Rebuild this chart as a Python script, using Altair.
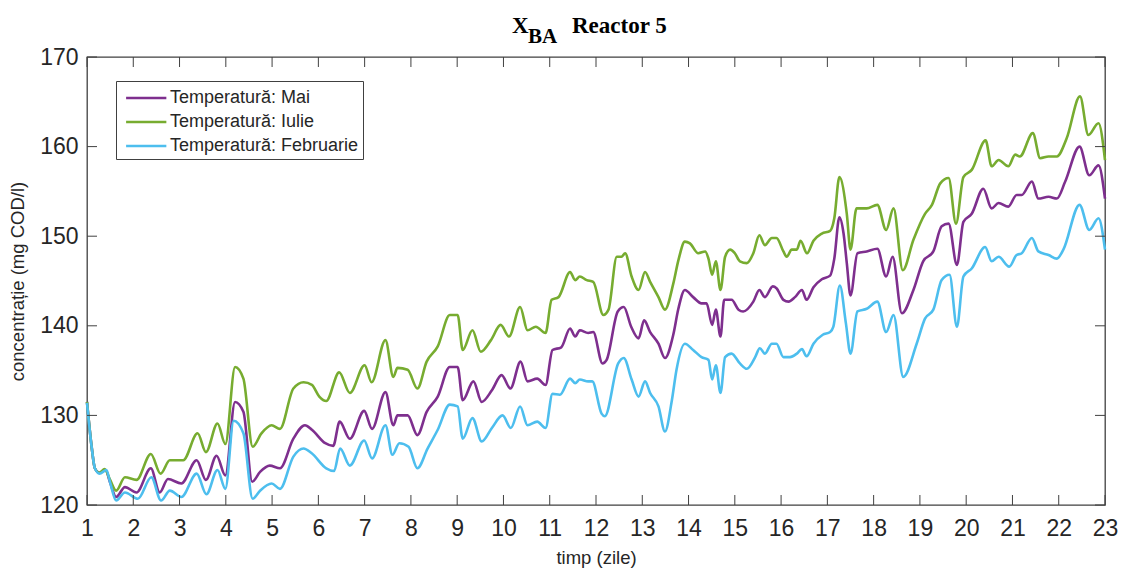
import altair as alt
import pandas as pd

# ---------------- data ----------------
mai_t = [1.0, 1.1, 1.17, 1.27, 1.4, 1.5, 1.63, 1.82, 2.07, 2.38, 2.57, 2.75, 3.04, 3.37, 3.57, 3.8, 3.99,
         4.2, 4.38, 4.57, 4.74, 4.95, 5.17, 5.46, 5.71, 5.86, 6.15, 6.32, 6.46, 6.68, 6.99, 7.16, 7.45,
         7.62, 7.71, 7.93, 8.14, 8.34, 8.58, 8.84, 9.01, 9.12, 9.35, 9.53, 9.75, 9.96, 10.15, 10.37,
         10.52, 10.73, 10.91, 11.06, 11.25, 11.44, 11.55, 11.65, 11.83, 11.94, 12.14, 12.23, 12.47,
         12.6, 12.76, 12.92, 13.04, 13.17, 13.35, 13.49, 13.67, 13.78, 13.92, 14.1, 14.28, 14.39,
         14.51, 14.59, 14.69, 14.77, 14.93, 15.08, 15.18, 15.4, 15.53, 15.65, 15.82, 15.9, 16.05,
         16.16, 16.3, 16.45, 16.55, 16.7, 16.88, 17.06, 17.15, 17.26, 17.35, 17.42, 17.5, 17.65,
         17.85, 18.08, 18.27, 18.41, 18.61, 18.86, 19.07, 19.29, 19.47, 19.62, 19.8, 19.94, 20.12,
         20.37, 20.55, 20.7, 20.91, 21.09, 21.2, 21.42, 21.56, 21.78, 21.96, 22.14, 22.45, 22.66,
         22.86, 23.0]
mai_v = [131.5, 126.5, 124.1, 123.6, 123.9, 122.5, 120.9, 122.0, 121.4, 124.1, 121.4, 122.9, 122.4,
         125.0, 122.8, 125.5, 123.3, 131.5, 130.4, 122.6, 123.7, 124.4, 124.1, 127.4, 128.9, 128.4,
         126.9, 126.6, 129.3, 127.4, 130.5, 128.5, 132.6, 128.9, 130.0, 130.0, 127.8, 130.4, 132.1,
         135.4, 135.4, 131.7, 133.8, 131.5, 132.8, 134.5, 133.0, 136.0, 133.8, 134.1, 133.4, 137.3,
         137.6, 139.7, 138.8, 139.5, 139.2, 139.3, 135.8, 136.2, 141.6, 142.1, 139.9, 138.6, 140.6,
         139.3, 138.0, 136.4, 139.0, 141.9, 144.0, 143.2, 142.5, 142.5, 140.1, 141.8, 138.8, 142.9,
         142.9, 141.8, 141.6, 142.7, 144.0, 143.2, 144.4, 144.2, 142.9, 142.7, 143.2, 144.0, 142.9,
         144.3, 145.2, 145.6, 147.5, 152.1, 150.3, 147.0, 143.4, 148.1, 148.3, 148.6, 145.5, 147.7,
         141.4, 144.0, 147.2, 148.3, 151.1, 151.4, 146.8, 151.6, 152.5, 155.3, 153.1, 153.7, 153.3,
         154.6, 154.6, 156.1, 154.2, 154.4, 154.2, 156.1, 160.0, 156.8, 157.9, 154.2]

iulie_t = [1.0, 1.1, 1.17, 1.27, 1.38, 1.5, 1.63, 1.82, 2.07, 2.38, 2.59, 2.79, 3.08, 3.39, 3.57, 3.82,
           3.99, 4.2, 4.38, 4.58, 4.77, 4.99, 5.17, 5.46, 5.68, 5.86, 6.02, 6.17, 6.45, 6.68, 7.0, 7.15,
           7.45, 7.62, 7.71, 7.93, 8.14, 8.34, 8.58, 8.84, 9.01, 9.12, 9.33, 9.51, 9.73, 9.94, 10.12,
           10.36, 10.52, 10.7, 10.91, 11.04, 11.19, 11.44, 11.55, 11.65, 11.8, 11.94, 12.16, 12.27,
           12.45, 12.55, 12.63, 12.77, 12.92, 13.06, 13.17, 13.35, 13.49, 13.67, 13.78, 13.92, 14.03,
           14.21, 14.36, 14.43, 14.51, 14.59, 14.69, 14.79, 14.9, 15.0, 15.11, 15.26, 15.4, 15.53,
           15.65, 15.8, 15.9, 16.05, 16.12, 16.23, 16.34, 16.42, 16.56, 16.7, 16.88, 17.06, 17.15,
           17.26, 17.42, 17.5, 17.63, 17.85, 18.08, 18.27, 18.43, 18.63, 18.86, 19.11, 19.26, 19.44,
           19.62, 19.78, 19.94, 20.12, 20.42, 20.55, 20.7, 20.91, 21.06, 21.16, 21.44, 21.6, 21.78,
           21.96, 22.17, 22.46, 22.64, 22.86, 23.0]
iulie_v = [131.5, 126.5, 124.1, 123.6, 124.0, 122.8, 121.6, 123.1, 122.8, 125.7, 123.5, 125.0, 125.0,
           128.0, 125.9, 129.1, 126.8, 135.4, 134.1, 126.5, 128.0, 128.9, 128.5, 133.0, 133.7, 133.4,
           132.1, 131.6, 134.8, 132.5, 135.6, 133.7, 138.4, 134.3, 135.3, 135.1, 133.0, 136.0, 137.7,
           141.2, 141.2, 137.3, 139.5, 137.1, 138.4, 140.1, 138.8, 142.1, 139.5, 139.9, 139.2, 142.9,
           143.2, 146.0, 145.1, 145.5, 145.1, 144.9, 141.2, 141.8, 147.7, 147.7, 148.1, 145.5, 144.0,
           146.0, 144.9, 143.2, 141.8, 144.7, 147.3, 149.4, 149.2, 148.1, 148.3, 147.5, 145.7, 147.2,
           144.0, 147.7, 148.5, 148.1, 147.2, 147.0, 148.1, 150.1, 149.0, 149.8, 149.8, 148.3, 147.7,
           148.5, 148.5, 149.5, 148.1, 149.5, 150.3, 150.6, 152.0, 156.6, 152.5, 148.5, 153.1, 153.1,
           153.5, 150.7, 153.1, 146.2, 149.6, 152.5, 153.5, 155.9, 156.5, 151.4, 156.6, 157.4, 160.7,
           157.8, 158.5, 157.8, 159.1, 158.9, 161.5, 158.7, 158.9, 158.9, 160.9, 165.6, 161.3, 162.6,
           158.5]

feb_t = [1.0, 1.1, 1.17, 1.27, 1.42, 1.5, 1.63, 1.82, 2.1, 2.39, 2.6, 2.79, 3.04, 3.37, 3.58, 3.82,
         3.99, 4.17, 4.38, 4.58, 4.74, 4.99, 5.17, 5.46, 5.68, 5.85, 6.17, 6.34, 6.47, 6.68, 6.99, 7.16,
         7.45, 7.6, 7.75, 7.95, 8.14, 8.36, 8.58, 8.84, 9.01, 9.12, 9.33, 9.53, 9.75, 9.98, 10.16,
         10.36, 10.52, 10.73, 10.91, 11.06, 11.22, 11.44, 11.55, 11.65, 11.83, 11.92, 12.12, 12.19,
         12.48, 12.6, 12.77, 12.92, 13.06, 13.17, 13.35, 13.49, 13.64, 13.74, 13.92, 14.1, 14.28,
         14.43, 14.51, 14.59, 14.69, 14.79, 14.93, 15.11, 15.26, 15.44, 15.54, 15.65, 15.8, 15.9,
         16.05, 16.19, 16.34, 16.45, 16.55, 16.7, 16.9, 17.06, 17.13, 17.27, 17.4, 17.5, 17.65,
         17.85, 18.08, 18.27, 18.43, 18.64, 18.93, 19.11, 19.29, 19.47, 19.64, 19.8, 19.94, 20.12,
         20.41, 20.55, 20.7, 20.93, 21.09, 21.2, 21.42, 21.56, 21.78, 21.96, 22.1, 22.45, 22.66,
         22.86, 23.0]
feb_v = [131.4, 126.5, 124.1, 123.5, 123.9, 122.5, 120.5, 121.4, 120.7, 123.1, 120.5, 121.6, 120.9,
         123.5, 121.2, 123.9, 121.8, 129.4, 128.0, 120.7, 121.6, 122.4, 121.8, 125.4, 126.3, 125.8,
         124.1, 123.8, 126.3, 124.4, 127.2, 125.2, 128.9, 125.6, 126.9, 126.5, 124.1, 126.3, 128.4,
         131.2, 131.0, 127.4, 129.7, 127.1, 128.6, 130.0, 128.6, 131.0, 128.9, 129.3, 128.6, 132.4,
         132.3, 134.1, 133.6, 134.0, 133.8, 133.8, 130.2, 129.9, 135.8, 136.4, 134.0, 132.1, 133.8,
         132.5, 131.0, 128.2, 131.7, 135.1, 138.0, 137.3, 136.5, 136.2, 134.0, 135.6, 132.5, 136.5,
         136.9, 135.8, 135.2, 136.5, 137.5, 136.9, 138.0, 138.0, 136.5, 136.5, 136.9, 137.4, 136.6,
         138.0, 139.0, 139.3, 139.9, 144.5, 140.3, 136.9, 141.6, 141.9, 142.7, 139.3, 141.2, 134.3,
         138.0, 140.8, 141.8, 145.1, 145.7, 139.9, 145.5, 146.4, 148.8, 147.2, 147.7, 146.6, 147.9,
         148.1, 149.8, 148.3, 147.9, 147.5, 148.5, 153.5, 150.7, 152.0, 148.5]

series_names = ["Temperatură: Mai", "Temperatură: Iulie", "Temperatură: Februarie"]
series_colors = ["#7E2F8E", "#77AC30", "#4DBEEE"]
x_ticks = list(range(1, 24))
y_ticks = [120, 130, 140, 150, 160, 170]
title_main = "X"
title_sub = "BA"
title_rest = "Reactor 5"
x_title = "timp (zile)"
y_title = "concentrație (mg COD/l)"

# ---------------- build table ----------------
rows = []
for name, ts, vs in zip(series_names, [mai_t, iulie_t, feb_t], [mai_v, iulie_v, feb_v]):
    for t, v in zip(ts, vs):
        rows.append({"t": t, "v": v, "s": name})
df = pd.DataFrame(rows)

W, H = 1018, 448
FRAME = "#404040"
TXT = "#262626"

xscale = alt.Scale(domain=[1, 23], nice=False, zero=False)
yscale = alt.Scale(domain=[120, 170], nice=False, zero=False)

xaxis = alt.Axis(values=x_ticks, title=x_title, ticks=False, domain=False, grid=False,
                 labelFontSize=23, labelPadding=12, labelColor=TXT, labelFont="Liberation Sans",
                 labelFlush=False, labelOverlap=False, labelBound=False,
                 titleFontSize=18.5, titleFontWeight="normal", titleColor=TXT,
                 titleFont="Liberation Sans", titlePadding=8, format="d")
yaxis = alt.Axis(values=y_ticks, title=y_title, ticks=False, domain=False, grid=False,
                 labelFontSize=23, labelPadding=9, labelColor=TXT, labelFont="Liberation Sans",
                 labelFlush=False, labelOverlap=False, labelBound=False,
                 titleFontSize=18.5, titleFontWeight="normal", titleColor=TXT,
                 titleFont="Liberation Sans", titlePadding=12, format="d")

lines = alt.Chart(df).mark_line(strokeWidth=2.6, interpolate="monotone").encode(
    x=alt.X("t:Q", scale=xscale, axis=xaxis),
    y=alt.Y("v:Q", scale=yscale, axis=yaxis),
    color=alt.Color("s:N", title=None,
                    scale=alt.Scale(domain=series_names, range=series_colors),
                    legend=alt.Legend(orient="none", legendX=29, legendY=24,
                                      symbolType="M-0.6,0H2.9", symbolSize=529, symbolStrokeWidth=2.6,
                                      labelFontSize=18, labelFont="Liberation Sans", labelColor=TXT,
                                      labelOffset=24, labelLimit=400, rowPadding=2, padding=4,
                                      strokeColor=FRAME, fillColor="white", cornerRadius=0)),
    order=alt.Order("t:Q"),
)

xt = pd.DataFrame({"t": x_ticks})
yt = pd.DataFrame({"v": y_ticks})
TL = 10
tick_bottom = alt.Chart(xt).mark_rule(color=FRAME, strokeWidth=1).encode(
    x=alt.X("t:Q", scale=xscale, axis=xaxis), y=alt.value(H), y2=alt.value(H - TL))
tick_top = alt.Chart(xt).mark_rule(color=FRAME, strokeWidth=1).encode(
    x=alt.X("t:Q", scale=xscale, axis=xaxis), y=alt.value(0), y2=alt.value(TL))
tick_left = alt.Chart(yt).mark_rule(color=FRAME, strokeWidth=1).encode(
    y=alt.Y("v:Q", scale=yscale, axis=yaxis), x=alt.value(0), x2=alt.value(TL))
tick_right = alt.Chart(yt).mark_rule(color=FRAME, strokeWidth=1).encode(
    y=alt.Y("v:Q", scale=yscale, axis=yaxis), x=alt.value(W), x2=alt.value(W - TL))

def ttext(txt, xpx, ypx, size):
    return alt.Chart(pd.DataFrame({"k": [txt]})).mark_text(
        font="Liberation Serif", fontWeight="bold", fontSize=size, color="black",
        align="left", baseline="alphabetic").encode(
        text="k:N", x=alt.value(xpx), y=alt.value(ypx))

t1 = ttext(title_main, 425, -24, 23)
t2 = ttext(title_sub, 441, -14, 21)
t3 = ttext(title_rest, 485, -24, 23)

chart = alt.layer(lines, tick_bottom, tick_top, tick_left, tick_right, t1, t2, t3).properties(
    width=W, height=H,
    autosize=alt.AutoSizeParams(type="none"),
    padding={"left": 87, "top": 57, "right": 17, "bottom": 64},
    background="white",
).configure_view(stroke=FRAME, strokeWidth=1.3)

chart.save("out.html", embed_options={"renderer": "svg", "actions": False})
